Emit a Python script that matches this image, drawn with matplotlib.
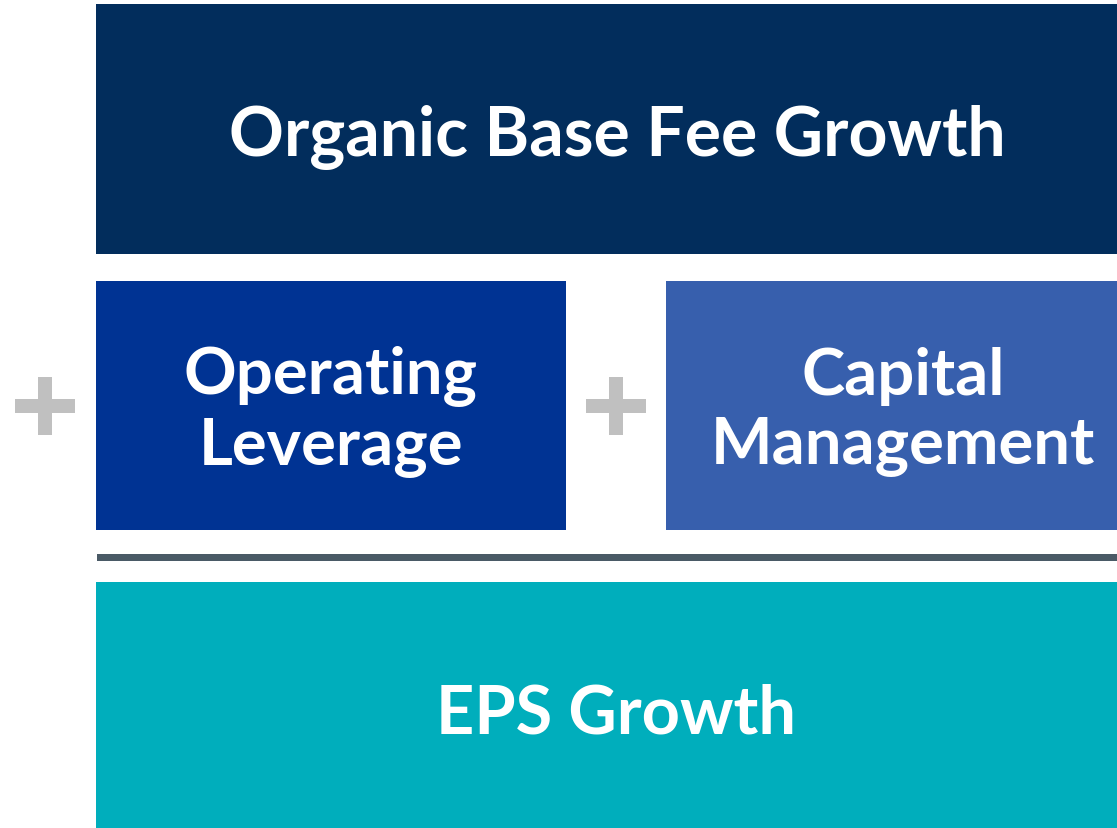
import matplotlib
matplotlib.use("Agg")
import matplotlib.pyplot as plt
from matplotlib.patches import Rectangle

W, H = 1117, 829

# content
labels = ["Organic Base Fee Growth", "Operating\nLeverage", "Capital\nManagement", "EPS Growth"]
box_colors = ["#022d5c", "#003393", "#375fad", "#00aebc"]
# boxes in pixel coords (x0, y0_top, x1, y1_bottom)
boxes = [(96, 5, 1117, 255), (96, 282, 566, 531), (666, 282, 1117, 531), (96, 583, 1117, 829)]
text_pos = [(617, 137), (331, 412), (903, 412), (616, 714)]
text_sizes = [49, 47, 47, 48]
plus_pos = [(45, 407), (616, 407)]

fig = plt.figure(figsize=(W / 100, H / 100), dpi=100)
ax = fig.add_axes([0, 0, 1, 1])
ax.set_xlim(0, W)
ax.set_ylim(H, 0)
ax.axis("off")

fam = ["Lato", "DejaVu Sans"]
for (x0, y0, x1, y1), c, lab, (tx, ty), fs in zip(boxes, box_colors, labels, text_pos, text_sizes):
    ax.add_patch(Rectangle((x0, y0), x1 - x0, y1 - y0, facecolor=c, edgecolor="none"))
    ax.text(tx, ty, lab, ha="center", va="center", color="white", fontsize=fs,
            fontweight="bold", family=fam, linespacing=1.2)

# separator line
ax.add_patch(Rectangle((97, 555), 1117 - 97, 7, facecolor="#4a5a66", edgecolor="none"))

# plus signs
for (px, py) in plus_pos:
    ax.add_patch(Rectangle((px - 30, py - 7), 60, 14, facecolor="#c0c0c0", edgecolor="none"))
    ax.add_patch(Rectangle((px - 7, py - 29), 14, 58, facecolor="#c0c0c0", edgecolor="none"))

fig.savefig("out.png", dpi=100)
